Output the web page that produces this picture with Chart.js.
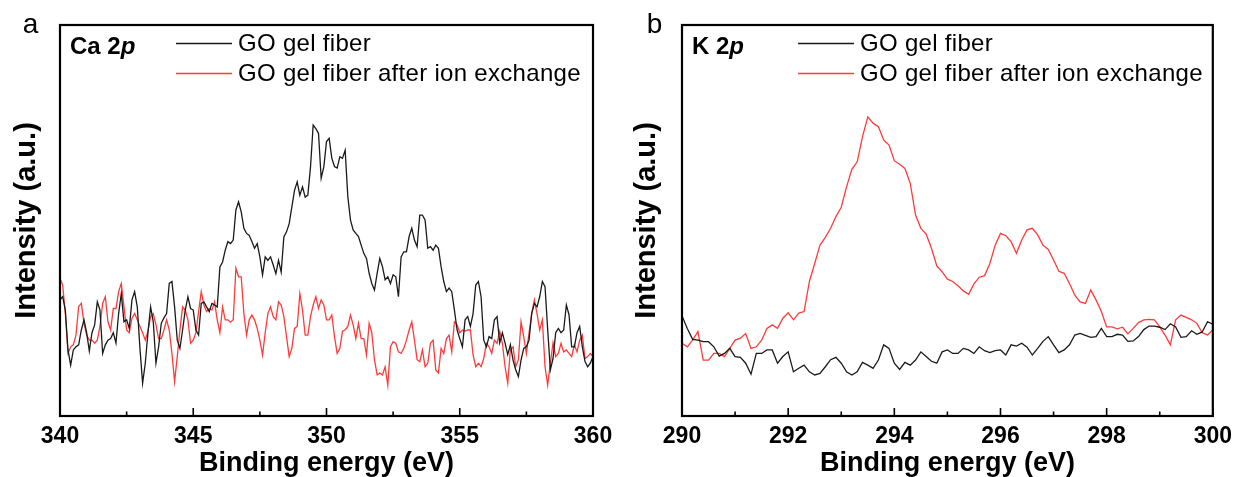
<!DOCTYPE html>
<html>
<head>
<meta charset="utf-8">
<script src="https://cdn.jsdelivr.net/npm/chart.js@4.4.1/dist/chart.umd.min.js"></script>
<style>
  body { margin: 0; background: #fff; }
  .panel { position: absolute; top: 0; }
</style>
</head>
<body>
<canvas id="chart-ca" class="panel" width="620" height="477" style="left:0"></canvas>
<canvas id="chart-k" class="panel" width="619" height="477" style="left:620px"></canvas>
<script>
// Ca 2p region, 340-360 eV, 0.1 eV steps
const caBlack = [
  29.7, 30.5, 27.1, 16.9, 13.0, 16.9, 17.7, 18.2, 22.0, 24.6,
  21.3, 16.6, 21.3, 23.3, 29.2, 27.1, 16.0, 18.2, 19.4, 19.8,
  21.3, 18.7, 26.2, 31.3, 24.1, 24.6, 22.4, 29.7, 31.8, 27.9,
  17.3, 8.4, 13.5, 21.3, 27.9, 24.1, 13.5, 17.7, 23.7, 25.1,
  26.2, 33.9, 34.4, 27.9, 19.4, 17.3, 22.0, 27.1, 30.5, 27.5,
  27.1, 22.0, 20.7, 28.8, 29.2, 27.9, 26.7, 28.8, 28.4, 27.9,
  38.1, 39.4, 42.4, 44.6, 44.1, 45.0, 52.7, 54.8, 52.2, 48.0,
  46.7, 46.2, 44.6, 42.9, 44.1, 40.7, 36.1, 40.7, 39.8, 40.7,
  38.6, 36.4, 39.8, 36.8, 45.8, 47.1, 49.2, 53.5, 57.7, 59.9,
  56.5, 58.6, 56.0, 56.5, 63.7, 74.4, 73.5, 72.3, 60.8, 63.7,
  70.2, 71.0, 65.9, 63.8, 63.4, 66.3, 65.9, 68.0, 56.1, 50.1,
  47.6, 46.7, 45.9, 43.7, 41.6, 40.3, 36.5, 33.9, 32.2, 36.5,
  40.3, 38.2, 34.8, 35.6, 33.9, 36.1, 35.6, 30.5, 40.7, 42.0,
  42.0, 45.9, 48.0, 45.0, 43.3, 51.4, 51.4, 50.1, 42.9, 43.3,
  42.4, 43.7, 42.9, 38.2, 34.4, 31.8, 32.7, 31.8, 27.1, 22.0,
  19.8, 17.7, 24.6, 25.4, 22.9, 26.2, 33.5, 34.4, 30.5, 19.4,
  17.7, 20.3, 19.8, 24.6, 25.4, 18.7, 21.3, 18.7, 15.7, 18.2,
  14.3, 11.8, 10.1, 14.3, 17.3, 17.7, 19.4, 26.2, 28.8, 27.9,
  30.5, 34.4, 33.1, 22.0, 11.8, 14.7, 21.3, 22.4, 21.3, 22.0,
  28.4, 25.9, 17.7, 17.7, 21.3, 22.9, 17.7, 13.9, 12.6, 13.5, 15.2
];
const caRed = [
  35.2, 33.5, 26.2, 16.0, 17.7, 18.2, 20.7, 28.0, 28.8, 23.7,
  20.7, 19.4, 19.4, 18.6, 19.4, 22.9, 28.8, 30.5, 24.1, 22.0,
  27.5, 27.5, 31.8, 33.9, 27.9, 22.0, 21.3, 25.0, 26.2, 24.6,
  22.9, 21.3, 19.4, 21.7, 25.4, 26.2, 23.3, 19.8, 19.8, 22.0,
  24.6, 22.0, 16.0, 8.8, 15.2, 22.0, 27.9, 27.1, 24.6, 18.6,
  19.4, 21.3, 26.7, 31.8, 28.4, 26.7, 27.5, 27.1, 29.2, 24.6,
  21.3, 27.9, 24.6, 24.6, 24.0, 24.6, 37.8, 35.6, 35.6, 26.2,
  20.7, 24.6, 25.8, 24.6, 22.4, 19.4, 15.6, 21.3, 26.2, 27.9,
  25.4, 24.6, 29.2, 28.4, 25.4, 20.3, 15.2, 17.3, 22.4, 22.9,
  31.3, 27.1, 20.7, 20.7, 25.4, 28.4, 30.5, 27.5, 29.7, 28.4,
  24.6, 24.6, 25.8, 20.3, 16.0, 17.3, 21.7, 22.0, 22.9, 25.8,
  23.3, 19.8, 23.7, 19.8, 19.8, 15.6, 23.7, 21.3, 14.4, 10.5,
  11.0, 10.5, 12.6, 7.9, 17.7, 19.0, 18.6, 16.4, 16.0, 17.3,
  19.4, 22.0, 24.1, 19.4, 14.4, 13.9, 16.9, 12.6, 13.5, 18.6,
  19.4, 11.8, 11.0, 17.3, 16.0, 19.8, 20.7, 16.4, 24.1, 23.3,
  21.3, 22.0, 21.7, 22.0, 22.0, 15.6, 12.6, 13.5, 12.6, 14.7,
  18.6, 17.7, 16.0, 19.4, 18.6, 21.7, 18.6, 12.6, 8.4, 16.9,
  17.7, 12.6, 14.4, 24.1, 20.3, 16.0, 21.3, 26.2, 29.7, 26.2,
  22.0, 24.6, 12.6, 7.9, 13.5, 18.7, 15.2, 16.0, 18.6, 16.4,
  16.9, 16.0, 15.2, 18.2, 16.4, 19.4, 20.7, 14.7, 15.2, 16.0, 15.2
];

// K 2p region, 290-300 eV, 0.1 eV steps
const kBlack = [
  25.6, 22.4, 19.6, 19.4, 19.0, 19.0, 17.7, 15.3, 16.0, 17.3,
  15.2, 15.0, 13.5, 10.7, 16.0, 16.0, 16.9, 16.9, 13.5, 15.2,
  16.4, 11.3, 12.2, 13.0, 11.3, 10.5, 10.9, 12.6, 14.4, 15.0,
  13.5, 11.3, 10.5, 11.3, 13.7, 13.0, 12.2, 14.3, 18.2, 17.3,
  13.5, 11.9, 13.7, 13.0, 14.3, 16.4, 15.2, 14.0, 13.5, 16.4,
  16.9, 16.0, 16.0, 17.3, 16.9, 16.0, 17.7, 16.7, 16.2, 16.7,
  16.9, 15.6, 18.2, 17.9, 18.6, 17.6, 15.6, 17.3, 19.1, 20.3,
  18.2, 16.2, 16.9, 18.2, 20.7, 21.1, 20.6, 20.1, 20.3, 22.4,
  20.3, 20.3, 20.9, 20.7, 19.1, 19.2, 20.3, 22.1, 23.0, 23.0,
  22.7, 22.1, 23.6, 22.8, 20.1, 20.3, 21.8, 20.9, 21.5, 24.1, 23.5
];
const kRed = [
  18.6, 17.7, 19.4, 21.6, 14.3, 14.3, 16.0, 16.0, 15.2, 17.3,
  19.4, 19.9, 21.1, 17.3, 17.7, 19.4, 22.4, 23.3, 22.4, 25.0,
  26.4, 24.6, 26.3, 26.7, 34.4, 39.0, 43.7, 45.7, 48.0, 51.0,
  53.4, 58.6, 63.1, 65.0, 71.4, 76.5, 74.9, 74.0, 70.6, 69.3,
  65.3, 64.4, 63.3, 59.5, 51.4, 48.0, 46.5, 42.9, 38.4, 36.9,
  35.0, 34.4, 33.3, 32.0, 31.1, 33.8, 35.5, 35.9, 39.0, 43.7,
  46.7, 46.1, 44.6, 41.6, 45.0, 47.6, 48.0, 46.3, 43.7, 42.6,
  39.9, 37.0, 36.5, 33.9, 30.9, 29.2, 28.8, 32.2, 29.7, 26.7,
  22.8, 22.8, 22.3, 22.7, 21.0, 22.4, 23.9, 24.6, 24.7, 24.6,
  22.8, 20.7, 18.2, 24.6, 25.8, 25.2, 24.6, 23.7, 21.3, 20.7, 22.0
];

const seriesLabels = ['GO gel fiber', 'GO gel fiber after ion exchange'];
const seriesColors = ['#1a1a1a', '#ff3a3a'];

// energy grids (instrument step 0.1 eV)
const energyGrid = (start, n) => Array.from({ length: n }, (_, i) => Math.round((start + i * 0.1) * 10) / 10);
const caEnergy = energyGrid(340, caBlack.length);
const kEnergy = energyGrid(290, kBlack.length);

const FONT = '"Liberation Sans", Arial, sans-serif';

// frame, inward ticks, panel letter, element label and legend
const decoPlugin = {
  id: 'deco',
  afterDraw(chart, args, opts) {
    const { ctx, chartArea: a } = chart;
    const xs = chart.scales.x;
    ctx.save();
    ctx.strokeStyle = '#000';
    ctx.lineWidth = 1.6;
    xs.ticks.forEach(t => {
      const px = xs.getPixelForValue(t.value);
      const len = Math.abs(t.value % opts.majorStep) < 1e-6 ? 8 : 4.5;
      ctx.beginPath();
      ctx.moveTo(px, a.bottom);
      ctx.lineTo(px, a.bottom - len);
      ctx.stroke();
    });
    ctx.lineWidth = 2.2;
    ctx.strokeRect(a.left, a.top, a.right - a.left, a.bottom - a.top);

    ctx.fillStyle = '#000';
    ctx.font = `28px ${FONT}`;
    ctx.textAlign = 'center';
    ctx.textBaseline = 'alphabetic';
    ctx.fillText(opts.letter, opts.letterX, 33);

    ctx.textAlign = 'left';
    ctx.textBaseline = 'middle';
    ctx.font = `bold 24px ${FONT}`;
    const lx = a.left + 10, ly = a.top + 22;
    ctx.fillText(opts.element, lx, ly);
    const w = ctx.measureText(opts.element).width;
    ctx.font = `italic bold 24px ${FONT}`;
    ctx.fillText('p', lx + w, ly);

    ctx.font = `24px ${FONT}`;
    ctx.letterSpacing = '0.3px';
    chart.data.datasets.forEach((ds, i) => {
      const y = a.top + 18.5 + i * 30;
      ctx.strokeStyle = ds.borderColor;
      ctx.lineWidth = 1.3;
      ctx.beginPath();
      ctx.moveTo(a.left + 116, y);
      ctx.lineTo(a.left + 172, y);
      ctx.stroke();
      ctx.fillText(ds.label, a.left + 178, y + 1);
    });
    ctx.restore();
  }
};

function makeChart(id, energy, black, red, xmin, xmax, step, major, yWidth, padRight, letter, letterX, element) {
  const toPoints = vals => vals.map((v, i) => ({ x: energy[i], y: v }));
  return new Chart(document.getElementById(id), {
    type: 'line',
    data: {
      datasets: [black, red].map((vals, i) => ({
        label: seriesLabels[i],
        data: toPoints(vals),
        borderColor: seriesColors[i],
        borderWidth: 1.3,
        pointRadius: 0,
        tension: 0
      }))
    },
    options: {
      responsive: false,
      animation: false,
      devicePixelRatio: 1,
      layout: { padding: { left: 0, right: padRight, top: 25, bottom: 0 } },
      plugins: {
        legend: { display: false },
        tooltip: { enabled: false },
        deco: { letter, letterX, element, majorStep: major }
      },
      scales: {
        x: {
          type: 'linear',
          min: xmin,
          max: xmax,
          grid: { display: false, drawTicks: false },
          border: { display: false },
          afterBuildTicks: s => {
            s.ticks = [];
            for (let v = xmin; v <= xmax + 1e-6; v += step) s.ticks.push({ value: Math.round(v * 10) / 10 });
          },
          ticks: {
            autoSkip: false,
            maxRotation: 0,
            padding: 7,
            color: '#000',
            font: { family: FONT, size: 23, weight: 'bold' },
            callback: v => Math.abs(v % major) < 1e-6 ? v : ''
          },
          title: {
            display: true,
            text: 'Binding energy (eV)',
            color: '#000',
            font: { family: FONT, size: 27, weight: 'bold', lineHeight: 1 },
            padding: { top: 0, bottom: 0 }
          },
          afterFit: s => { s.height = 61; }
        },
        y: {
          min: 0,
          max: 100,
          grid: { display: false, drawTicks: false },
          border: { display: false },
          ticks: { display: false },
          title: {
            display: true,
            text: 'Intensity (a.u.)',
            color: '#000',
            font: { family: FONT, size: 29, weight: 'bold', lineHeight: 1 },
            padding: { top: 12, bottom: 0 }
          },
          afterFit: s => { s.width = yWidth; }
        }
      }
    },
    plugins: [decoPlugin]
  });
}

makeChart('chart-ca', caEnergy, caBlack, caRed, 340, 360, 2.5, 5, 60, 27, 'a', 30.5, 'Ca 2');
makeChart('chart-k', kEnergy, kBlack, kRed, 290, 300, 1, 2, 62, 24, 'b', 34.5, 'K 2');
</script>
</body>
</html>
